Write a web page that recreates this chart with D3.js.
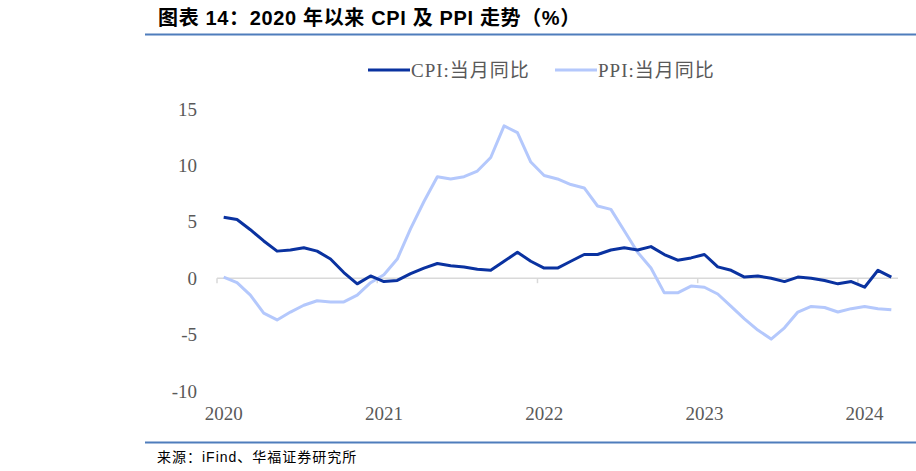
<!DOCTYPE html>
<html>
<head>
<meta charset="utf-8">
<script src="https://cdn.jsdelivr.net/npm/d3@7"></script>
<style>
  html, body { margin: 0; padding: 0; background: #fff; }
</style>
</head>
<body>
<div id="grafico"></div>
<script>
const width = 916;
const height = 471;

// meses: 2020-01 ... 2024-03
const meses = [];
for (let a = 2020; a <= 2024; a++) {
  for (let m = 1; m <= 12; m++) {
    if (a === 2024 && m > 3) break;
    meses.push(`${a}-${String(m).padStart(2, "0")}`);
  }
}

// CPI:当月同比
const cpi = [
  5.4, 5.2, 4.3, 3.3, 2.4, 2.5, 2.7, 2.4, 1.7, 0.5, -0.5, 0.2,
  -0.3, -0.2, 0.4, 0.9, 1.3, 1.1, 1.0, 0.8, 0.7, 1.5, 2.3, 1.5,
  0.9, 0.9, 1.5, 2.1, 2.1, 2.5, 2.7, 2.5, 2.8, 2.1, 1.6, 1.8,
  2.1, 1.0, 0.7, 0.1, 0.2, 0.0, -0.3, 0.1, 0.0, -0.2, -0.5, -0.3,
  -0.8, 0.7, 0.1
];

// PPI:当月同比
const ppi = [
  0.1, -0.4, -1.5, -3.1, -3.7, -3.0, -2.4, -2.0, -2.1, -2.1, -1.5, -0.4,
  0.3, 1.7, 4.4, 6.8, 9.0, 8.8, 9.0, 9.5, 10.7, 13.5, 12.9, 10.3,
  9.1, 8.8, 8.3, 8.0, 6.4, 6.1, 4.2, 2.3, 0.9, -1.3, -1.3, -0.7,
  -0.8, -1.4, -2.5, -3.6, -4.6, -5.4, -4.4, -3.0, -2.5, -2.6, -3.0, -2.7,
  -2.5, -2.7, -2.8
];

const series = [
  { nombre: "CPI:当月同比", valores: cpi, color: "#0a32a0" },
  { nombre: "PPI:当月同比", valores: ppi, color: "#b4c8fc" }
];

const ticksY = [15, 10, 5, 0, -5, -10];
const anios = ["2020", "2021", "2022", "2023", "2024"];

const fuenteSerif = "'Liberation Serif', 'Times New Roman', 'Noto Sans CJK SC', serif";
const fuenteSans = "'Liberation Sans', Arial, 'Noto Sans CJK SC', sans-serif";
const gris = "#595959";

const svg = d3.select("#grafico")
  .append("svg")
  .attr("width", width)
  .attr("height", height);

// === TITULO ===
svg.append("text")
  .attr("x", 158)
  .attr("y", 25)
  .style("font-family", fuenteSans)
  .style("font-size", "20px")
  .style("font-weight", "bold")
  .style("letter-spacing", "0.65px")
  .attr("fill", "#000")
  .text("图表 14：2020 年以来 CPI 及 PPI 走势（%）");

svg.append("line")
  .attr("x1", 145).attr("x2", width)
  .attr("y1", 34.5).attr("y2", 34.5)
  .attr("stroke", "#4f7dbc")
  .attr("stroke-width", 2);

// === ESCALAS ===
const x = d3.scaleBand()
  .domain(meses)
  .range([217, 898])
  .paddingInner(0)
  .paddingOuter(0);

const y = d3.scaleLinear()
  .domain([-10, 15])
  .range([391, 109]);

const centro = d => x(d) + x.bandwidth() / 2;

// Etiquetas eje Y
svg.append("g")
  .selectAll("text")
  .data(ticksY)
  .join("text")
  .attr("x", 197)
  .attr("y", d => y(d))
  .attr("dy", "0.35em")
  .attr("text-anchor", "end")
  .style("font-family", fuenteSerif)
  .style("font-size", "19px")
  .attr("fill", gris)
  .text(d => d);

// Eje X sobre el cero
const ejeX = svg.append("g");
ejeX.append("line")
  .attr("x1", x.range()[0]).attr("x2", x.range()[1])
  .attr("y1", y(0)).attr("y2", y(0))
  .attr("stroke", "#d9d9d9")
  .attr("stroke-width", 1.5);

ejeX.selectAll(".marca")
  .data(anios)
  .join("line")
  .attr("class", "marca")
  .attr("x1", d => x(`${d}-01`)).attr("x2", d => x(`${d}-01`))
  .attr("y1", y(0)).attr("y2", y(0) + 5)
  .attr("stroke", "#d9d9d9")
  .attr("stroke-width", 1.5);

svg.append("g")
  .selectAll("text")
  .data(anios)
  .join("text")
  .attr("x", d => centro(`${d}-01`))
  .attr("y", 420)
  .attr("text-anchor", "middle")
  .style("font-family", fuenteSerif)
  .style("font-size", "19px")
  .attr("fill", gris)
  .text(d => d);

// === LINEAS ===
const linea = d3.line()
  .x((d, i) => centro(meses[i]))
  .y(d => y(d));

// PPI debajo, CPI encima
[series[1], series[0]].forEach(s => {
  svg.append("path")
    .datum(s.valores)
    .attr("fill", "none")
    .attr("stroke", s.color)
    .attr("stroke-width", 3)
    .attr("stroke-linejoin", "round")
    .attr("d", linea);
});

// === LEYENDA ===
const posLeyenda = [368, 555];
const leyenda = svg.append("g")
  .selectAll("g")
  .data(series)
  .join("g")
  .attr("transform", (d, i) => `translate(${posLeyenda[i]}, 70)`);

leyenda.append("line")
  .attr("x1", 0).attr("x2", 42)
  .attr("y1", 0).attr("y2", 0)
  .attr("stroke", d => d.color)
  .attr("stroke-width", 3);

leyenda.append("text")
  .attr("x", 43)
  .attr("y", 7)
  .style("font-family", fuenteSerif)
  .style("font-size", "19px")
  .style("letter-spacing", "1px")
  .attr("fill", gris)
  .text(d => d.nombre);

// === FUENTE ===
svg.append("line")
  .attr("x1", 145).attr("x2", width)
  .attr("y1", 442.5).attr("y2", 442.5)
  .attr("stroke", "#4f7dbc")
  .attr("stroke-width", 2);

svg.append("text")
  .attr("x", 157)
  .attr("y", 462)
  .style("font-family", fuenteSans)
  .style("font-size", "14px")
  .style("letter-spacing", "1px")
  .attr("fill", "#000")
  .text("来源：iFind、华福证券研究所");
</script>
</body>
</html>
